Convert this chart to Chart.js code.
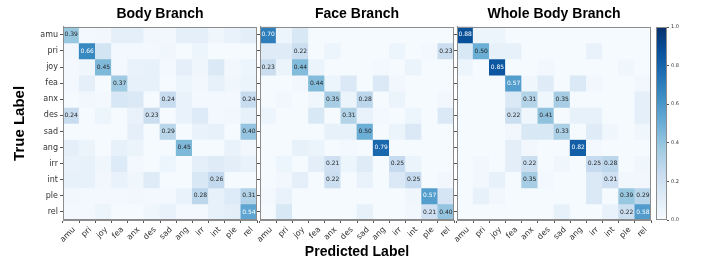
<!DOCTYPE html>
<html>
<head>
<meta charset="utf-8">
<script src="https://cdn.jsdelivr.net/npm/chart.js@4.4.0/dist/chart.umd.min.js"></script>
<style>
  html, body { margin: 0; padding: 0; background: #fff; }
  #wrap { position: relative; width: 702px; height: 262px; overflow: hidden; }
  #wrap canvas { position: absolute; top: 0; }
</style>
</head>
<body>
<div id="wrap">
  <canvas id="bodyChart" width="262" height="262" style="left:0px"></canvas>
  <canvas id="faceChart" width="262" height="262" style="left:200px"></canvas>
  <canvas id="wholeChart" width="262" height="262" style="left:400px"></canvas>
  <canvas id="cbarChart" width="62" height="262" style="left:640px"></canvas>
</div>
<script>
// class labels (rows = true, columns = predicted)
const emotions = ['amu', 'pri', 'joy', 'fea', 'anx', 'des', 'sad', 'ang', 'irr', 'int', 'ple', 'rel'];

// Body Branch
const bodyBranch = [
    [0.39, 0.02, 0.03, 0.09, 0.09, 0.03, 0.03, 0.09, 0.09, 0.04, 0.07, 0.10],
    [0.03, 0.66, 0.18, 0.02, 0.02, 0.02, 0.04, 0.01, 0.05, 0.01, 0.01, 0.01],
    [0.02, 0.04, 0.45, 0.02, 0.07, 0.08, 0.02, 0.09, 0.04, 0.14, 0.03, 0.05],
    [0.02, 0.09, 0.01, 0.37, 0.08, 0.08, 0.01, 0.05, 0.03, 0.08, 0.04, 0.06],
    [0.01, 0.03, 0.02, 0.16, 0.14, 0.01, 0.24, 0.07, 0.02, 0.02, 0.02, 0.24],
    [0.24, 0.01, 0.05, 0.01, 0.07, 0.23, 0.01, 0.07, 0.13, 0.02, 0.03, 0.08],
    [0.01, 0.01, 0.01, 0.01, 0.09, 0.01, 0.29, 0.01, 0.07, 0.08, 0.01, 0.40],
    [0.09, 0.06, 0.01, 0.08, 0.06, 0.01, 0.01, 0.45, 0.01, 0.01, 0.07, 0.03],
    [0.07, 0.08, 0.04, 0.13, 0.02, 0.01, 0.05, 0.01, 0.09, 0.12, 0.10, 0.07],
    [0.08, 0.08, 0.03, 0.07, 0.04, 0.12, 0.01, 0.01, 0.15, 0.26, 0.01, 0.01],
    [0.03, 0.02, 0.02, 0.02, 0.03, 0.02, 0.02, 0.07, 0.28, 0.08, 0.13, 0.31],
    [0.02, 0.02, 0.05, 0.01, 0.01, 0.04, 0.07, 0.02, 0.02, 0.08, 0.10, 0.54]
];

// Face Branch
const faceBranch = [
    [0.70, 0.05, 0.15, 0.01, 0.01, 0.01, 0.01, 0.01, 0.01, 0.01, 0.01, 0.01],
    [0.12, 0.12, 0.22, 0.01, 0.05, 0.01, 0.01, 0.01, 0.05, 0.01, 0.02, 0.23],
    [0.23, 0.06, 0.44, 0.06, 0.01, 0.01, 0.01, 0.02, 0.01, 0.06, 0.01, 0.01],
    [0.01, 0.01, 0.03, 0.44, 0.05, 0.14, 0.01, 0.14, 0.03, 0.01, 0.01, 0.01],
    [0.01, 0.03, 0.01, 0.04, 0.35, 0.06, 0.28, 0.01, 0.06, 0.01, 0.01, 0.03],
    [0.05, 0.01, 0.01, 0.15, 0.01, 0.31, 0.07, 0.02, 0.01, 0.05, 0.01, 0.14],
    [0.01, 0.01, 0.01, 0.01, 0.08, 0.08, 0.50, 0.01, 0.06, 0.14, 0.01, 0.01],
    [0.01, 0.01, 0.08, 0.06, 0.01, 0.02, 0.01, 0.79, 0.01, 0.01, 0.01, 0.01],
    [0.01, 0.05, 0.01, 0.10, 0.21, 0.05, 0.12, 0.01, 0.25, 0.06, 0.01, 0.01],
    [0.01, 0.03, 0.09, 0.01, 0.22, 0.01, 0.07, 0.01, 0.14, 0.25, 0.01, 0.03],
    [0.02, 0.07, 0.01, 0.01, 0.01, 0.01, 0.01, 0.01, 0.01, 0.04, 0.57, 0.17],
    [0.01, 0.15, 0.01, 0.01, 0.01, 0.01, 0.08, 0.01, 0.01, 0.03, 0.21, 0.40]
];

// Whole Body Branch
const wholeBodyBranch = [
    [0.88, 0.05, 0.05, 0.01, 0.01, 0.01, 0.01, 0.01, 0.01, 0.01, 0.01, 0.01],
    [0.15, 0.50, 0.08, 0.08, 0.01, 0.01, 0.01, 0.01, 0.07, 0.01, 0.01, 0.01],
    [0.05, 0.01, 0.85, 0.01, 0.01, 0.03, 0.01, 0.01, 0.01, 0.01, 0.04, 0.01],
    [0.01, 0.01, 0.01, 0.57, 0.04, 0.12, 0.01, 0.14, 0.03, 0.01, 0.01, 0.03],
    [0.01, 0.01, 0.01, 0.14, 0.31, 0.04, 0.35, 0.01, 0.01, 0.01, 0.01, 0.09],
    [0.01, 0.01, 0.01, 0.22, 0.04, 0.41, 0.01, 0.08, 0.08, 0.01, 0.01, 0.09],
    [0.01, 0.01, 0.01, 0.03, 0.15, 0.15, 0.33, 0.01, 0.12, 0.04, 0.01, 0.04],
    [0.01, 0.01, 0.01, 0.10, 0.03, 0.01, 0.01, 0.82, 0.02, 0.01, 0.01, 0.01],
    [0.01, 0.03, 0.01, 0.10, 0.22, 0.01, 0.04, 0.01, 0.25, 0.28, 0.01, 0.04],
    [0.01, 0.03, 0.08, 0.01, 0.35, 0.02, 0.01, 0.01, 0.14, 0.21, 0.03, 0.03],
    [0.01, 0.08, 0.03, 0.01, 0.01, 0.01, 0.01, 0.01, 0.14, 0.01, 0.39, 0.29],
    [0.01, 0.01, 0.01, 0.01, 0.01, 0.01, 0.08, 0.01, 0.01, 0.07, 0.22, 0.58]
];

const colorbarTicks = [0, 0.2, 0.4, 0.6, 0.8, 1.0];

// matplotlib "Blues"
const bluesStops = ['#f7fbff', '#deebf7', '#c6dbef', '#9ecae1', '#6baed6', '#4292c6', '#2171b5', '#08519c', '#08306b'];
const hexRgb = h => [1, 3, 5].map(i => parseInt(h.substr(i, 2), 16));
function blues(v) {
    const p = Math.max(0, Math.min(1, v)) * 8;
    const i = Math.min(7, Math.floor(p));
    const t = p - i;
    const a = hexRgb(bluesStops[i]), b = hexRgb(bluesStops[i + 1]);
    const c = a.map((x, k) => Math.round(x + (b[k] - x) * t));
    return `rgb(${c[0]},${c[1]},${c[2]})`;
}

const spineColor = '#8c8c8c';

// border around each plot area
const frame = {
    id: 'frame',
    afterDraw(chart) {
        const { ctx, chartArea: a } = chart;
        ctx.save();
        ctx.strokeStyle = spineColor;
        ctx.lineWidth = 1;
        ctx.strokeRect(Math.round(a.left) + 0.5, Math.round(a.top) + 0.5,
            Math.round(a.right - a.left) - 1, Math.round(a.bottom - a.top) - 1);
        ctx.restore();
    }
};

// numbers in cells >= 0.2
const cellText = {
    id: 'cellText',
    afterDatasetsDraw(chart) {
        const ctx = chart.ctx;
        ctx.save();
        ctx.font = '6px "DejaVu Sans"';
        ctx.textAlign = 'center';
        ctx.textBaseline = 'middle';
        chart.data.datasets.forEach((ds, d) => {
            if (!ds.values) return;
            chart.getDatasetMeta(d).data.forEach((bar, c) => {
                const v = ds.values[c];
                if (v < 0.2) return;
                ctx.fillStyle = v > 0.5 ? '#ffffff' : '#262626';
                ctx.fillText(v.toFixed(2), bar.x, (bar.y + bar.base) / 2);
            });
        });
        ctx.restore();
    }
};

function makeMatrix(id, title, matrix, opts) {
    return new Chart(document.getElementById(id), {
        type: 'bar',
        data: {
            labels: emotions,
            datasets: matrix.map((row, r) => ({
                label: emotions[r],
                values: row,
                data: row.map(() => 1),
                backgroundColor: row.map(v => blues(v)),
                borderWidth: 0,
                barPercentage: 1,
                categoryPercentage: 1,
                stack: 'cm'
            }))
        },
        options: {
            responsive: false,
            animation: false,
            events: [],
            layout: { padding: { left: 0, right: opts.padRight, top: 0, bottom: 0 } },
            plugins: {
                legend: { display: false },
                tooltip: { enabled: false },
                title: {
                    display: true,
                    text: title,
                    fullSize: false,
                    color: '#000',
                    font: { family: '"Liberation Sans", Arial', size: 14, weight: 'bold' },
                    padding: { top: 6, bottom: 4 }
                }
            },
            scales: {
                x: {
                    stacked: true,
                    grid: { drawOnChartArea: false, tickLength: 3, color: '#555' },
                    border: { color: spineColor },
                    ticks: {
                        autoSkip: false, minRotation: 45, maxRotation: 45, padding: 2, labelOffset: 3,
                        color: '#333', font: { family: '"DejaVu Sans"', size: 8 }
                    },
                    title: {
                        display: opts.xTitle,
                        text: 'Predicted Label',
                        color: '#000',
                        font: { family: '"Liberation Sans", Arial', size: 14, weight: 'bold' },
                        padding: { top: 0, bottom: 1 }
                    },
                    afterFit: s => { s.height = 42; s.paddingLeft = 0; s.paddingRight = 0; }
                },
                y: {
                    stacked: true,
                    reverse: true,
                    min: 0,
                    max: 12,
                    afterBuildTicks: s => { s.ticks = emotions.map((_, i) => ({ value: i + 0.5 })); },
                    grid: { drawOnChartArea: false, tickLength: 3, color: '#555' },
                    border: { color: spineColor },
                    ticks: {
                        display: opts.yLabels, padding: 2,
                        color: '#333', font: { family: '"DejaVu Sans"', size: 8 },
                        callback: (v, i) => emotions[i]
                    },
                    title: {
                        display: opts.yTitle,
                        text: 'True Label',
                        color: '#000',
                        font: { family: '"Liberation Sans", Arial', size: 15, weight: 'bold' },
                        padding: { top: 11, bottom: 0 }
                    },
                    afterFit: s => { s.width = opts.yWidth; s.paddingTop = 0; s.paddingBottom = 0; }
                }
            }
        },
        plugins: [cellText, frame]
    });
}

makeMatrix('bodyChart', 'Body Branch', bodyBranch, { yWidth: 63, padRight: 5, yLabels: true, yTitle: true, xTitle: false });
makeMatrix('faceChart', 'Face Branch', faceBranch, { yWidth: 60, padRight: 8, yLabels: false, yTitle: false, xTitle: true });
makeMatrix('wholeChart', 'Whole Body Branch', wholeBodyBranch, { yWidth: 57, padRight: 11, yLabels: false, yTitle: false, xTitle: false });

// colour bar
new Chart(document.getElementById('cbarChart'), {
    type: 'bar',
    data: {
        labels: [''],
        datasets: [{
            data: [[0, 1]],
            backgroundColor: c => {
                const a = c.chart.chartArea;
                if (!a) return bluesStops[0];
                const g = c.chart.ctx.createLinearGradient(0, a.bottom, 0, a.top);
                bluesStops.forEach((col, i) => g.addColorStop(i / 8, col));
                return g;
            },
            borderWidth: 0,
            barPercentage: 1,
            categoryPercentage: 1
        }]
    },
    options: {
        responsive: false,
        animation: false,
        events: [],
        layout: { padding: { left: 16, right: 0, top: 27, bottom: 42 } },
        plugins: { legend: { display: false }, tooltip: { enabled: false } },
        scales: {
            x: { display: false },
            y: {
                position: 'right',
                min: 0,
                max: 1,
                afterBuildTicks: s => { s.ticks = colorbarTicks.map(v => ({ value: v })); },
                grid: { drawOnChartArea: false, tickLength: 2, color: '#555' },
                border: { display: false },
                ticks: {
                    padding: 2, color: '#333', font: { family: '"DejaVu Sans"', size: 5 },
                    callback: v => v.toFixed(1)
                },
                afterFit: s => { s.width = 35; s.paddingTop = 0; s.paddingBottom = 0; }
            }
        }
    },
    plugins: [frame]
});
</script>
</body>
</html>
